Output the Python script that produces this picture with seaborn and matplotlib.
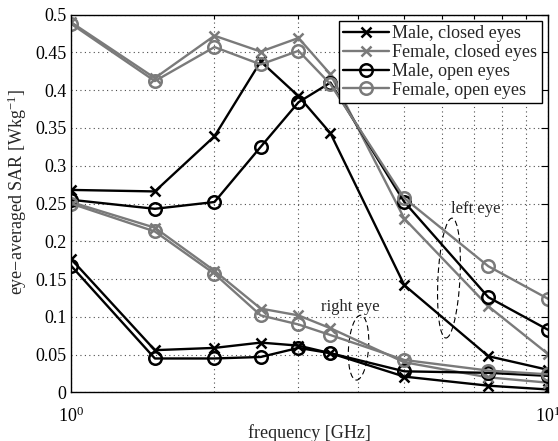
import numpy as np
import pandas as pd
import matplotlib
matplotlib.use("Agg")
import matplotlib.pyplot as plt
import matplotlib.ticker as mticker
import matplotlib.transforms as mtransforms
from matplotlib.patches import Ellipse
import seaborn as sns

# ---------------- data ----------------
freq = [1, 1.5, 2, 2.5, 3, 3.5, 5, 7.5, 10]

male_closed_left = [0.268, 0.266, 0.339, 0.438, 0.392, 0.343, 0.142, 0.048, 0.030]
female_closed_left = [0.490, 0.416, 0.472, 0.451, 0.469, 0.421, 0.230, 0.114, 0.051]
male_open_left = [0.255, 0.243, 0.252, 0.325, 0.384, 0.410, 0.252, 0.126, 0.083]
female_open_left = [0.488, 0.412, 0.457, 0.434, 0.452, 0.408, 0.257, 0.167, 0.124]

male_closed_right = [0.177, 0.056, 0.059, 0.066, 0.062, 0.052, 0.021, 0.009, 0.004]
female_closed_right = [0.252, 0.218, 0.161, 0.111, 0.102, 0.085, 0.040, 0.020, 0.013]
male_open_right = [0.168, 0.045, 0.045, 0.047, 0.059, 0.052, 0.028, 0.026, 0.022]
female_open_right = [0.250, 0.213, 0.157, 0.102, 0.090, 0.076, 0.043, 0.029, 0.024]

series_labels = ["Male, closed eyes", "Female, closed eyes",
                 "Male, open eyes", "Female, open eyes"]
y_ticks = [0, 0.05, 0.1, 0.15, 0.2, 0.25, 0.3, 0.35, 0.4, 0.45, 0.5]

# ---------------- style ----------------
sns.set_style("white")
plt.rcParams["font.family"] = ["Liberation Serif", "DejaVu Serif"]
plt.rcParams["mathtext.fontset"] = "custom"
plt.rcParams["mathtext.rm"] = "Liberation Serif"
plt.rcParams["mathtext.it"] = "Liberation Serif:italic"
plt.rcParams["mathtext.bf"] = "Liberation Serif:bold"

FS = 13
GRAY = "0.48"
BLACK = "black"

fig = plt.figure(figsize=(5.58, 4.41), dpi=100)
ax = fig.add_axes([0.127, 0.110, 0.855, 0.857])

styles = [
    (male_closed_left, male_closed_right, BLACK, "x", 6.5),
    (female_closed_left, female_closed_right, GRAY, "x", 6.5),
    (male_open_left, male_open_right, BLACK, "o", 9),
    (female_open_left, female_open_right, GRAY, "o", 9),
]

handles = []
for (left, right, col, mk, ms), lab in zip(styles, series_labels):
    for vals, keep in ((left, True), (right, False)):
        df = pd.DataFrame({"freq": freq, "sar": vals})
        sns.lineplot(data=df, x="freq", y="sar", ax=ax, color=col,
                     linewidth=1.7, marker=mk, markersize=ms,
                     markeredgewidth=1.8, markeredgecolor=col,
                     markerfacecolor="none", legend=False)
        if keep:
            handles.append(ax.lines[-1])

ax.set_xscale("log")
ax.set_xlim(1, 10)
ax.set_ylim(0, 0.5)

ax.yaxis.set_major_locator(mticker.FixedLocator(y_ticks))
ax.yaxis.set_major_formatter(mticker.FuncFormatter(lambda v, p: f"{v:g}"))
ax.xaxis.set_major_locator(mticker.LogLocator(base=10))
ax.xaxis.set_minor_locator(mticker.LogLocator(base=10, subs=np.arange(2, 10)))
ax.xaxis.set_minor_formatter(mticker.NullFormatter())

ax.grid(True, which="major", axis="both", linestyle=(0, (1, 3)), color="0.3", linewidth=0.8)
ax.grid(True, which="minor", axis="x", linestyle=(0, (1, 3)), color="0.3", linewidth=0.8)

ax.tick_params(axis="both", which="both", direction="in", top=True, right=True,
               labelsize=FS, colors="black")
ax.tick_params(axis="both", which="major", length=5, width=0.8)
ax.tick_params(axis="x", which="minor", length=3, width=0.8)
ax.tick_params(axis="x", which="major", pad=10)
ax.tick_params(axis="y", which="major", pad=3)

for s in ax.spines.values():
    s.set_color("black")
    s.set_linewidth(1.0)

ax.set_xlabel("frequency [GHz]", fontsize=FS, labelpad=-1)
ax.set_ylabel("eye\u2212averaged SAR [Wkg$^{-1}$]", fontsize=FS)
ax.yaxis.set_label_coords(-0.088, 0.53)

leg = ax.legend(handles, series_labels, loc="upper right", fontsize=FS,
                frameon=True, fancybox=False, edgecolor="black", framealpha=1,
                handlelength=2.5, handletextpad=0.2, labelspacing=0.1,
                borderpad=0.25, borderaxespad=0.35, numpoints=1)
leg.get_frame().set_linewidth(1.0)

# annotations
ax.text(0.849, 0.485, "left eye", transform=ax.transAxes, fontsize=12,
        ha="center", va="center")
ax.text(0.586, 0.227, "right eye", transform=ax.transAxes, fontsize=12,
        ha="center", va="center")

for cx, cy, w, h, ang in ((0.7925, 0.3027, 0.22, 1.2, -3.0),
                          (0.603, 0.1186, 0.20, 0.65, -4.0)):
    tr = fig.dpi_scale_trans + mtransforms.ScaledTranslation(cx, cy, ax.transAxes)
    e = Ellipse((0, 0), w, h, angle=ang, transform=tr, fill=False,
                edgecolor="black", linewidth=0.8, linestyle=(0, (5, 3)))
    ax.add_patch(e)

fig.savefig("out.png", dpi=100)
